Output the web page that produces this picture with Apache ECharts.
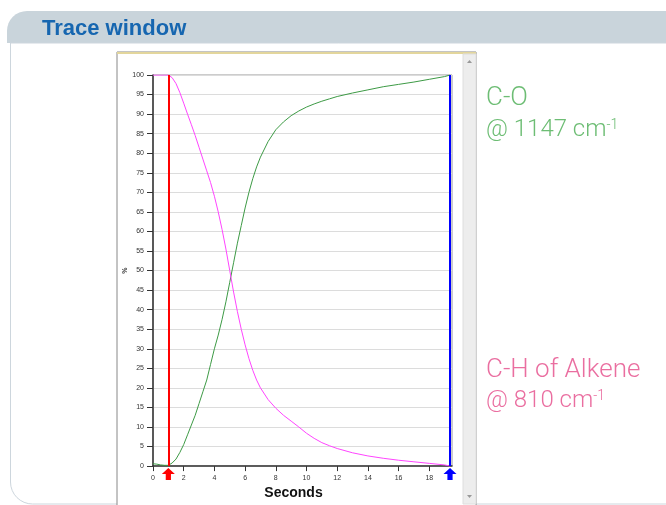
<!DOCTYPE html>
<html><head><meta charset="utf-8">
<script src="https://cdn.jsdelivr.net/npm/echarts@6/dist/echarts.min.js"></script>
<style>html,body{margin:0;padding:0;background:#fff}#c{width:666px;height:505px}</style>
</head><body><div id="c"></div>
<script>
// ---- data ----
const seconds = [0,0.25,0.5,0.75,1,1.25,1.5,1.75,2,2.25,2.5,2.75,3,3.25,3.5,3.75,4,4.25,4.5,4.75,5,5.25,5.5,5.75,6,6.25,6.5,6.75,7,7.5,8,8.5,9,9.5,10,10.5,11,11.5,12,13,14,15,16,17,18,19,19.35];
const coValues = [0.6,0.5,0.3,0.2,0.2,0.8,1.8,3.5,5.5,8,10.5,13,16,19,22,26,30,33.5,37.5,42,47,52,57,61.5,66,70,73.5,76.5,79,83,86,88,89.6,90.8,91.8,92.6,93.3,93.9,94.5,95.4,96.2,97,97.6,98.2,98.9,99.6,100];
const chValues = [100,100,100,100,100,99.3,97.8,95.5,92.8,90,87.3,84.5,81.5,78.5,75.5,72.5,69,65,60.5,55.5,50,44.5,39.5,35,31,27.5,24.5,22,20,17,14.8,13,11.5,10,8.4,7.1,6,5.2,4.5,3.4,2.6,2,1.5,1.1,0.7,0.3,0];
const startMarker = 1;
const endMarker = 19.35;
const xMax = 19.48;
const yTickStep = 5, xTickStep = 2;
const titleText = 'Trace window';
const coLabel = ['C-O', '@ 1147 cm', '-1'];
const chLabel = ['C-H of Alkene', '@ 810 cm', '-1'];

const chart = echarts.init(document.getElementById('c'), null, {renderer:'canvas'});
const arrowPath = 'path://M0,5 L5,0 L10,5 L7,5 L7,10 L3,10 L3,5 Z';
const lightFont = 'Roboto, "Liberation Sans", sans-serif';

chart.setOption({
  animation:false,
  backgroundColor:'#fff',
  grid:{left:153,right:214,top:75,bottom:34,show:true,borderColor:'#999',borderWidth:1,backgroundColor:'#fff'},
  xAxis:{type:'value',min:0,max:xMax,interval:xTickStep,
    axisLine:{lineStyle:{color:'#333',width:1.5}},
    axisTick:{length:5,lineStyle:{color:'#333'}},
    axisLabel:{fontSize:7,color:'#333',margin:8,showMaxLabel:false,fontFamily:'Liberation Sans, Arial'},
    splitLine:{show:false},
    name:'Seconds',nameLocation:'middle',nameGap:15,
    nameTextStyle:{fontSize:14,fontWeight:'bold',color:'#111',fontFamily:'Liberation Sans, Arial',padding:[0,18,0,0]}},
  yAxis:{type:'value',min:0,max:100,interval:yTickStep,
    axisLine:{show:true,lineStyle:{color:'#333',width:1.5}},
    axisTick:{show:true,length:6,lineStyle:{color:'#333'}},
    axisLabel:{fontSize:7,color:'#333',margin:9,fontFamily:'Liberation Sans, Arial'},
    splitLine:{show:true,lineStyle:{color:'#dcdcdc',width:1}},
    name:'%',nameLocation:'middle',nameGap:24,
    nameTextStyle:{fontSize:7,fontWeight:'bold',color:'#333'}},
  series:[
    {type:'line',name:'C-O',showSymbol:false,data:seconds.map((s,i)=>[s,coValues[i]]),
      lineStyle:{color:'#3d9a45',width:1},z:3},
    {type:'line',name:'C-H',showSymbol:false,data:seconds.map((s,i)=>[s,chValues[i]]),
      lineStyle:{color:'#ff44ff',width:1},z:3,
      markLine:{silent:true,symbol:'none',label:{show:false},
        data:[{xAxis:startMarker,lineStyle:{color:'#ff0000',width:2,type:'solid'}},
              {xAxis:endMarker,lineStyle:{color:'#0000ff',width:2,type:'solid'}}]},
      markPoint:{symbol:arrowPath,symbolSize:[13,12],symbolOffset:[0,8],label:{show:false},
        data:[{coord:[startMarker,0],itemStyle:{color:'#ff0000'}},
              {coord:[endMarker,0],itemStyle:{color:'#0000ff'}}]}}
  ],
  graphic:[
    // header band
    {type:'rect',z:-20,shape:{x:7,y:11,width:670,height:32,r:[20,12,0,0]},style:{fill:'#c9d4db'}},
    {type:'text',z:-19,left:42,top:18,style:{text:titleText,fill:'#1666b0',font:'bold 22px "Liberation Sans Narrow", "Liberation Sans", Arial'}},
    // panel border
    {type:'rect',z:-20,shape:{x:10.5,y:43,width:700,height:461,r:[0,0,0,22]},style:{fill:'#fff',stroke:'#cdd6dd',lineWidth:1}},
    // window
    {type:'rect',z:-18,shape:{x:117,y:52,width:359,height:460},style:{fill:'#fff',stroke:'#888',lineWidth:1}},
    {type:'rect',z:-17,shape:{x:117,y:52,width:359,height:2},style:{fill:'#e3d69c'}},
    {type:'rect',z:-17,shape:{x:463,y:54,width:13,height:450},style:{fill:'#ededed',stroke:'#dedede',lineWidth:1}},
    {type:'polygon',z:-16,shape:{points:[[467,63],[472,63],[469.5,60]]},style:{fill:'#999'}},
    {type:'polygon',z:-16,shape:{points:[[467,495],[472,495],[469.5,498]]},style:{fill:'#999'}},
    // right labels
    {type:'text',left:486,top:85,style:{text:coLabel[0],fill:'#6dbd74',font:'300 26px '+lightFont}},
    {type:'text',left:486,top:118,style:{text:'{a|'+coLabel[1]+'}{s|'+coLabel[2]+'}',fill:'#6dbd74',
      rich:{a:{fontSize:24,fontWeight:300,fontFamily:'Roboto',fill:'#6dbd74',verticalAlign:'bottom'},
            s:{fontSize:14,fontWeight:300,fontFamily:'Roboto',fill:'#6dbd74',verticalAlign:'top',padding:[0,0,10,0]}}}},
    {type:'text',left:486,top:357,style:{text:chLabel[0],fill:'#ea6ea0',font:'300 26px '+lightFont}},
    {type:'text',left:486,top:389,style:{text:'{a|'+chLabel[1]+'}{s|'+chLabel[2]+'}',fill:'#ea6ea0',
      rich:{a:{fontSize:24,fontWeight:300,fontFamily:'Roboto',fill:'#ea6ea0',verticalAlign:'bottom'},
            s:{fontSize:14,fontWeight:300,fontFamily:'Roboto',fill:'#ea6ea0',verticalAlign:'top',padding:[0,0,10,0]}}}}
  ]
});
</script></body></html>
